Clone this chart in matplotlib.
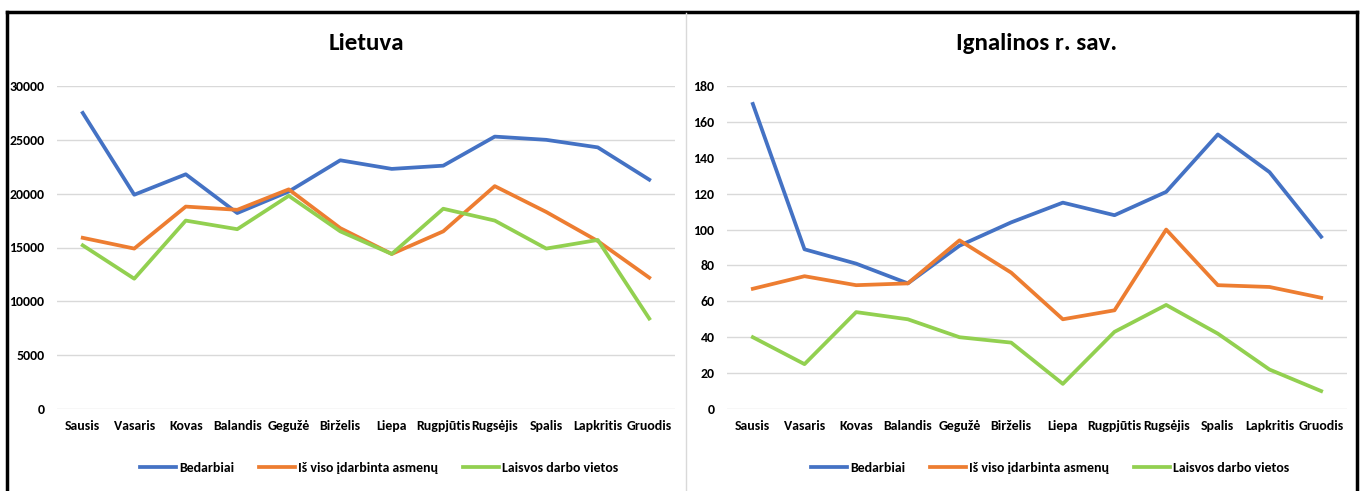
import matplotlib.pyplot as plt
from matplotlib.lines import Line2D

plt.rcParams['font.family'] = ['Carlito', 'DejaVu Sans']
plt.rcParams['font.weight'] = 'bold'

months = ["Sausis", "Vasaris", "Kovas", "Balandis", "Gegužė", "Birželis",
          "Liepa", "Rugpjūtis", "Rugsėjis", "Spalis", "Lapkritis", "Gruodis"]

# Lietuva
lt_bedarbiai = [27500, 19900, 21800, 18200, 20200, 23100, 22300, 22600, 25300, 25000, 24300, 21300]
lt_idarbinta = [15900, 14900, 18800, 18500, 20400, 16800, 14400, 16500, 20700, 18300, 15600, 12200]
lt_vietos = [15200, 12100, 17500, 16700, 19800, 16500, 14400, 18600, 17500, 14900, 15700, 8400]

# Ignalinos r. sav.
ig_bedarbiai = [170, 89, 81, 70, 91, 104, 115, 108, 121, 153, 132, 96]
ig_idarbinta = [67, 74, 69, 70, 94, 76, 50, 55, 100, 69, 68, 62]
ig_vietos = [40, 25, 54, 50, 40, 37, 14, 43, 58, 42, 22, 10]

series_names = ["Bedarbiai", "Iš viso įdarbinta asmenų", "Laisvos darbo vietos"]
colors = ["#4472C4", "#ED7D31", "#92D050"]

W, H = 1362, 491
fig = plt.figure(figsize=(W / 100, H / 100), dpi=100)

panels = [
    ("Lietuva", [lt_bedarbiai, lt_idarbinta, lt_vietos], 30000, 5000, (57, 675), 379),
    ("Ignalinos r. sav.", [ig_bedarbiai, ig_idarbinta, ig_vietos], 180, 20, (727, 1347), 1050),
]

for title, data, ymax, step, (x0, x1), leg_x in panels:
    y_top, y_bot = 86, 409
    ax = fig.add_axes([x0 / W, 1 - y_bot / H, (x1 - x0) / W, (y_bot - y_top) / H])
    for vals, c in zip(data, colors):
        ax.plot(range(len(months)), vals, color=c, lw=2.7)
    ax.set_ylim(0, ymax)
    ax.set_yticks(range(0, ymax + 1, step))
    ax.set_xlim(-0.5, len(months) - 0.5)
    ax.set_xticks(range(len(months)))
    ax.set_xticklabels(months)
    ax.tick_params(axis='both', labelsize=10, length=0)
    ax.tick_params(axis='y', pad=9)
    ax.tick_params(axis='x', pad=8)
    ax.grid(axis='y', color='#D9D9D9', lw=1)
    ax.set_axisbelow(True)
    for s in ax.spines.values():
        s.set_visible(False)
    fig.text((x0 + x1) / 2 / W, 1 - 44 / H, title, fontsize=18, ha='center', va='center')
    handles = [Line2D([0], [0], color=c, lw=2.7) for c in colors]
    fig.legend(handles, series_names, loc='center', bbox_to_anchor=(leg_x / W, 1 - 468 / H),
               ncol=3, frameon=False, fontsize=10, handlelength=2.6,
               columnspacing=1.8, handletextpad=0.2)

# outer frame and divider
fig.add_artist(Line2D([7 / W, 7 / W], [0, 1 - 12 / H], color='black', lw=2.5))
fig.add_artist(Line2D([1357 / W, 1357 / W], [0, 1 - 12 / H], color='black', lw=2.5))
fig.add_artist(Line2D([7 / W, 1357 / W], [1 - 12 / H, 1 - 12 / H], color='black', lw=2.5))
fig.add_artist(Line2D([686 / W, 686 / W], [0, 1 - 13 / H], color='#D9D9D9', lw=1))

fig.savefig("out.png", dpi=100)
